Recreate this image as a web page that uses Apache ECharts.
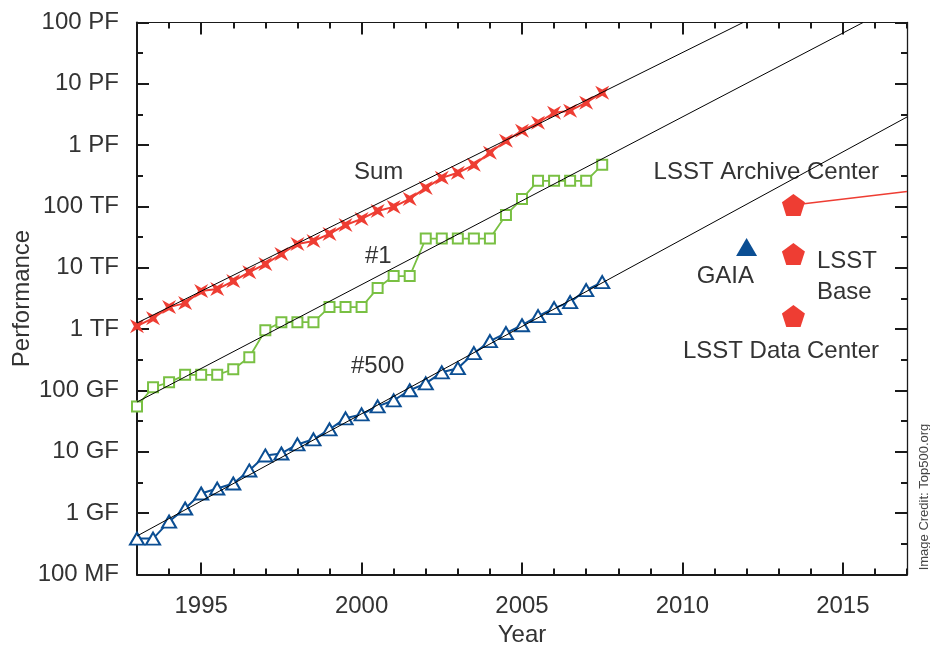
<!DOCTYPE html>
<html>
<head>
<meta charset="utf-8">
<script src="https://cdn.jsdelivr.net/npm/echarts@6/dist/echarts.min.js"></script>
<style>html,body{margin:0;padding:0;background:#fff}#c{width:930px;height:646px}</style>
</head>
<body>
<div id="c"></div>
<script>
var years = [1993, 1993.5, 1994, 1994.5, 1995, 1995.5, 1996, 1996.5, 1997, 1997.5,
             1998, 1998.5, 1999, 1999.5, 2000, 2000.5, 2001, 2001.5, 2002, 2002.5,
             2003, 2003.5, 2004, 2004.5, 2005, 2005.5, 2006, 2006.5, 2007, 2007.5];
var sumVals = [1.12e12, 1.51e12, 2.29e12, 2.66e12, 4.18e12, 4.5e12, 6.08e12, 8.5e12, 1.15e13, 1.68e13,
               2.45e13, 2.74e13, 3.57e13, 5.0e13, 6.27e13, 8.47e13, 9.85e13, 1.33e14, 2.01e14, 2.93e14,
               3.54e14, 4.78e14, 7.52e14, 1.18e15, 1.72e15, 2.32e15, 3.38e15, 3.65e15, 4.93e15, 7.18e15];
var top1Vals = [5.5e10, 1.13e11, 1.36e11, 1.8e11, 1.8e11, 1.8e11, 2.22e11, 3.49e11, 9.6e11, 1.3e12,
                1.3e12, 1.3e12, 2.29e12, 2.29e12, 2.29e12, 4.68e12, 7.35e12, 7.35e12, 3.0e13, 3.0e13,
                3.0e13, 3.0e13, 3.0e13, 7.29e13, 1.33e14, 2.62e14, 2.62e14, 2.62e14, 2.62e14, 4.78e14];
var top500Vals = [3.85e8, 3.85e8, 7.29e8, 1.19e9, 2.09e9, 2.52e9, 3.05e9, 4.97e9, 8.73e9, 9.4e9,
                  1.32e10, 1.6e10, 2.32e10, 3.52e10, 4.08e10, 5.52e10, 6.92e10, 1.01e11, 1.31e11, 1.98e11,
                  2.31e11, 4.06e11, 6.37e11, 8.6e11, 1.16e12, 1.63e12, 2.2e12, 2.76e12, 4.34e12, 5.86e12];
var sumTrend = [[1993, 1.26e12], [2011.89, 1e17]];
var top1Trend = [[1993, 6.49e10], [2015.63, 1e17]];
var top500Trend = [[1993, 4.24e8], [2017, 2.88e15]];
var gaiaPoint = [[2012.0, 2.18e13]];
var lsstPoints = [[2013.46, 1.06e14], [2013.46, 1.68e13], [2013.46, 1.64e12]];
var lsstArchiveLine = [[2013.46, 1.06e14], [2017, 1.75e14]];
var yTickLabels = ['100 MF', '1 GF', '10 GF', '100 GF', '1 TF', '10 TF', '100 TF', '1 PF', '10 PF', '100 PF'];
var xMajorTicks = [1995, 2000, 2005, 2010, 2015];

var FONT = 'Liberation Sans';
var FS = 24;
var TXT = '#333333';
var AX = '#1a1a1a';
var RED = '#ee3d33', GREEN = '#79c043', BLUE = '#0b4e93';
var starPath = 'path://M0,0 L5,2.8 L10,0 L7.2,5 L10,10 L5,7.2 L0,10 L2.8,5 Z';
var pentPath = 'path://M50,0 L100,37 L81,97 L19,97 L0,37 Z';

function pairs(xs, ys) { return xs.map(function (x, i) { return [x, ys[i]]; }); }

var chart = echarts.init(document.getElementById('c'), null, {renderer: 'canvas'});
var tickMajor = {show: true, inside: true, length: 12, lineStyle: {color: AX, width: 2}};
var tickMinor = {show: true, inside: true, length: 6, lineStyle: {color: AX, width: 2}};
function txt(text, x, y, align) {
  return {type: 'text', x: x, y: y, style: {text: text, fontSize: FS, fontFamily: FONT, fill: TXT, align: align, verticalAlign: 'middle'}};
}

var option = {
  animation: false,
  backgroundColor: '#fff',
  grid: {left: 137, right: 23, top: 22.5, bottom: 71.5, containLabel: false, outerBoundsMode: 'none'},
  xAxis: [
    {type: 'value', min: 1993, max: 2017, position: 'bottom',
     axisLine: {show: true, lineStyle: {color: AX, width: 2}},
     axisTick: Object.assign({customValues: xMajorTicks}, tickMajor),
     axisLabel: {customValues: xMajorTicks, fontSize: FS, fontFamily: FONT, color: TXT, margin: 20,
                 formatter: function (v) { return String(v); }},
     splitLine: {show: false},
     name: 'Year', nameLocation: 'middle', nameGap: 47,
     nameTextStyle: {fontSize: FS, fontFamily: FONT, color: TXT}},
    {type: 'value', min: 1993, max: 2017, interval: 1, position: 'bottom',
     axisLine: {show: false}, axisTick: tickMinor, axisLabel: {show: false}, splitLine: {show: false}},
    {type: 'value', min: 1993, max: 2017, position: 'top',
     axisLine: {show: true, lineStyle: {color: AX, width: 1}},
     axisTick: Object.assign({customValues: xMajorTicks}, tickMajor),
     axisLabel: {show: false}, splitLine: {show: false}},
    {type: 'value', min: 1993, max: 2017, interval: 1, position: 'top',
     axisLine: {show: false}, axisTick: tickMinor, axisLabel: {show: false}, splitLine: {show: false}}
  ],
  yAxis: [
    {type: 'log', logBase: 10, min: 1e8, max: 1e17, show: false, splitLine: {show: false}},
    {type: 'value', min: 8, max: 17, interval: 1, position: 'left',
     axisLine: {show: true, lineStyle: {color: AX, width: 2}},
     axisTick: tickMajor,
     minorTick: {show: true, splitNumber: 2, length: 6, lineStyle: {color: AX, width: 2}},
     axisLabel: {fontSize: FS, fontFamily: FONT, color: TXT, margin: 18,
                 formatter: function (v) { return yTickLabels[Math.round(v - 8)]; }},
     splitLine: {show: false}, minorSplitLine: {show: false},
     name: 'Performance', nameLocation: 'middle', nameGap: 103, nameRotate: 90, nameMoveOverlap: false,
     nameTextStyle: {fontSize: FS, fontFamily: FONT, color: TXT}},
    {type: 'value', min: 8, max: 17, interval: 1, position: 'right',
     axisLine: {show: true, lineStyle: {color: AX, width: 1.3}},
     axisTick: tickMajor,
     minorTick: {show: true, splitNumber: 2, length: 6, lineStyle: {color: AX, width: 2}},
     axisLabel: {show: false}, splitLine: {show: false}}
  ],
  series: [
    {type: 'line', name: 'Sum', data: pairs(years, sumVals), xAxisIndex: 0, yAxisIndex: 0,
     symbol: starPath, symbolSize: 14, lineStyle: {color: RED, width: 2},
     itemStyle: {color: RED}, z: 3},
    {type: 'line', name: '#1', data: pairs(years, top1Vals), xAxisIndex: 0, yAxisIndex: 0,
     symbol: 'rect', symbolSize: 10, lineStyle: {color: GREEN, width: 1.8},
     itemStyle: {color: '#fff', borderColor: GREEN, borderWidth: 2}, z: 3},
    {type: 'line', name: '#500', data: pairs(years, top500Vals), xAxisIndex: 0, yAxisIndex: 0,
     symbol: 'triangle', symbolSize: [14, 12], lineStyle: {color: BLUE, width: 2},
     itemStyle: {color: '#fff', borderColor: BLUE, borderWidth: 2}, z: 3},
    {type: 'line', data: sumTrend, showSymbol: false, symbol: 'none', lineStyle: {color: '#000', width: 1}, z: 5},
    {type: 'line', data: top1Trend, showSymbol: false, symbol: 'none', lineStyle: {color: '#000', width: 1}, z: 5},
    {type: 'line', data: top500Trend, showSymbol: false, symbol: 'none', lineStyle: {color: '#000', width: 1}, z: 5},
    {type: 'line', data: lsstArchiveLine, showSymbol: false, symbol: 'none', lineStyle: {color: RED, width: 1.5}, z: 3},
    {type: 'scatter', data: gaiaPoint, symbol: 'triangle', symbolSize: [21, 18], itemStyle: {color: BLUE, opacity: 1}, z: 4},
    {type: 'scatter', data: lsstPoints, symbol: pentPath, symbolSize: [23, 22], itemStyle: {color: RED, opacity: 1}, z: 4}
  ],
  graphic: [
    txt('Sum', 354, 172, 'left'),
    txt('#1', 365, 256, 'left'),
    txt('#500', 351, 366, 'left'),
    txt('LSST Archive Center', 879, 172, 'right'),
    txt('GAIA', 754, 276, 'right'),
    txt('LSST', 817, 261, 'left'),
    txt('Base', 817, 292, 'left'),
    txt('LSST Data Center', 879, 351, 'right'),
    {type: 'text', x: 924, y: 497, rotation: Math.PI / 2, style: {text: 'Image Credit: Top500.org', fontSize: 13, fontFamily: FONT, fill: '#444', align: 'center', verticalAlign: 'middle'}}
  ]
};
chart.setOption(option);
</script>
</body>
</html>
